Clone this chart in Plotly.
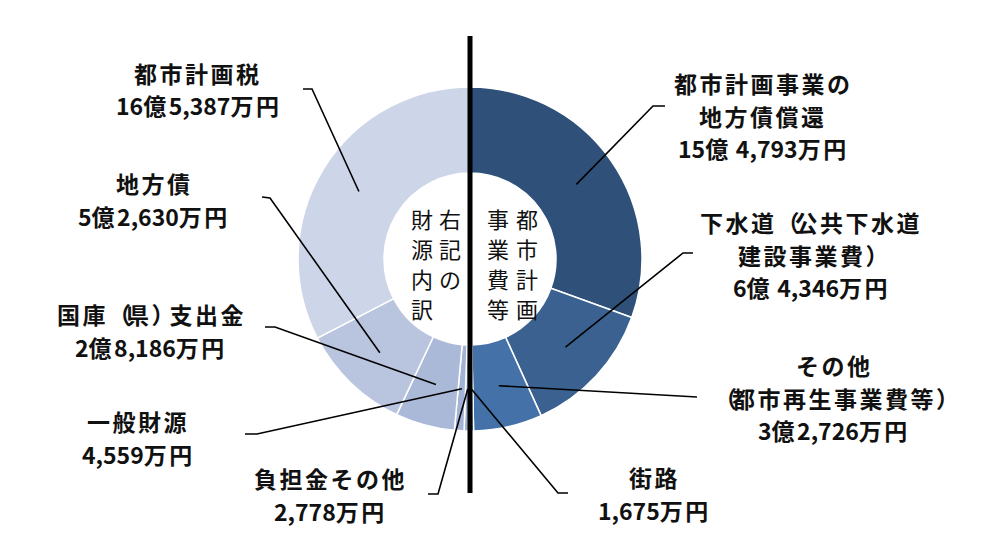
import math
import plotly.graph_objects as go

# ---------------- data ----------------
categories = ["都市計画事業の地方債償還", "下水道（公共下水道建設事業費）", "その他（都市再生事業費等）", "街路",
              "負担金その他", "一般財源", "国庫（県）支出金", "地方債", "都市計画税"]
values = [154793, 64346, 32726, 1675, 2778, 4559, 28186, 52630, 165387]  # 万円
label_texts = [
    ["都市計画事業の", "地方債償還", "15億 4,793万円"],
    ["下水道（公共下水道", "建設事業費）", "6億 4,346万円"],
    ["その他", "（都市再生事業費等）", "3億2,726万円"],
    ["街路", "1,675万円"],
    ["負担金その他", "2,778万円"],
    ["一般財源", "4,559万円"],
    ["国庫（県）支出金", "2億8,186万円"],
    ["地方債", "5億2,630万円"],
    ["都市計画税", "16億5,387万円"],
]
center_right = ["都市計画", "事業費等"]
center_left = ["右記の", "財源内訳"]

# ---------------- styles / layout ----------------
W, H = 984, 536
colors = ["#2E5079", "#3A6190", "#4472A8", "#4A78B0",
          "#9DAED2", "#A3B3D5", "#ABB9D8", "#B9C4DF", "#CDD6E8"]
CX, CY, R = 470, 259, 172
HOLE = 0.5
LEAD_R = 130
label_pos = [(763, 83), (811, 222), (834, 365), (654, 477), (330, 478),
             (138, 421), (151, 314), (154, 183), (198, 73)]
line_pitch = 32.5
elbows = [
    [(653, 106), (665, 106)],
    [(683, 253), (693, 253)],
    [(697, 397)],
    [(558, 493), (568, 493)],
    [(438, 494), (428, 494)],
    [(257, 434), (245, 434)],
    [(275, 327), (265, 327)],
    [(270, 198), (262, 197)],
    [(312, 89), (303, 89)],
]
FONT = "Noto Sans CJK JP"
TEXT_COLOR = "#111111"


def px(x):
    return x / W


def py(y):
    return 1 - y / H


def char_class(c):
    if c in "（）":
        return "paren"
    if ord(c) >= 0x3000:
        return "cjk"
    return "other"


SPACING = {"cjk": "2.5px", "paren": "-5px", "other": "0px"}


def styled(text):
    out, run, cls = [], "", None
    for c in text:
        k = char_class(c)
        if k != cls and run:
            out.append(f'<span style="letter-spacing:{SPACING[cls]}">{run}</span>')
            run = ""
        cls = k
        run += c
    if run:
        out.append(f'<span style="letter-spacing:{SPACING[cls]}">{run}</span>')
    return "<b>" + "".join(out) + "</b>"


fig = go.Figure()
fig.add_trace(go.Pie(
    labels=categories, values=values, sort=False, direction="clockwise", rotation=0,
    hole=HOLE, marker=dict(colors=colors, line=dict(color="white", width=1.5)),
    textinfo="none", hoverinfo="label+value", showlegend=False,
    domain=dict(x=[px(CX - R), px(CX + R)], y=[py(CY + R), py(CY - R)]),
))

annotations = []
shapes = []
total = sum(values)
cum = 0
for i, v in enumerate(values):
    mid = (cum + v / 2) / total * 360
    cum += v
    ax = CX + LEAD_R * math.sin(math.radians(mid))
    ay = CY - LEAD_R * math.cos(math.radians(mid))
    pts = [(ax, ay)] + elbows[i]
    path = "M " + " L ".join(f"{px(x):.5f},{py(y):.5f}" for x, y in pts)
    shapes.append(dict(type="path", path=path, xref="paper", yref="paper",
                       line=dict(color="black", width=1.6)))
    lx, ly = label_pos[i]
    for j, t in enumerate(label_texts[i]):
        annotations.append(dict(text=styled(t), x=px(lx), y=py(ly + j * line_pitch),
                                xref="paper", yref="paper", xanchor="center", yanchor="middle",
                                showarrow=False, borderpad=0,
                                font=dict(family=FONT, size=23, color=TEXT_COLOR)))

# vertical divider
shapes.append(dict(type="line", xref="paper", yref="paper", x0=px(CX), x1=px(CX),
                   y0=py(36), y1=py(493), line=dict(color="black", width=5)))

# centre vertical text, one character per annotation
cols = [(527, center_right[0]), (498, center_right[1]), (450, center_left[0]), (422, center_left[1])]
for x, t in cols:
    for k, ch in enumerate(t):
        annotations.append(dict(text=ch, x=px(x), y=py(218 + k * 30), xref="paper", yref="paper",
                                xanchor="center", yanchor="middle", showarrow=False, borderpad=0,
                                font=dict(family=FONT, size=22, color=TEXT_COLOR)))

fig.update_layout(width=W, height=H, margin=dict(l=0, r=0, t=0, b=0),
                  paper_bgcolor="white", plot_bgcolor="white",
                  annotations=annotations, shapes=shapes)
fig.write_html("out.html", config={"displayModeBar": False},
               post_script="document.body.style.margin='0px';")
